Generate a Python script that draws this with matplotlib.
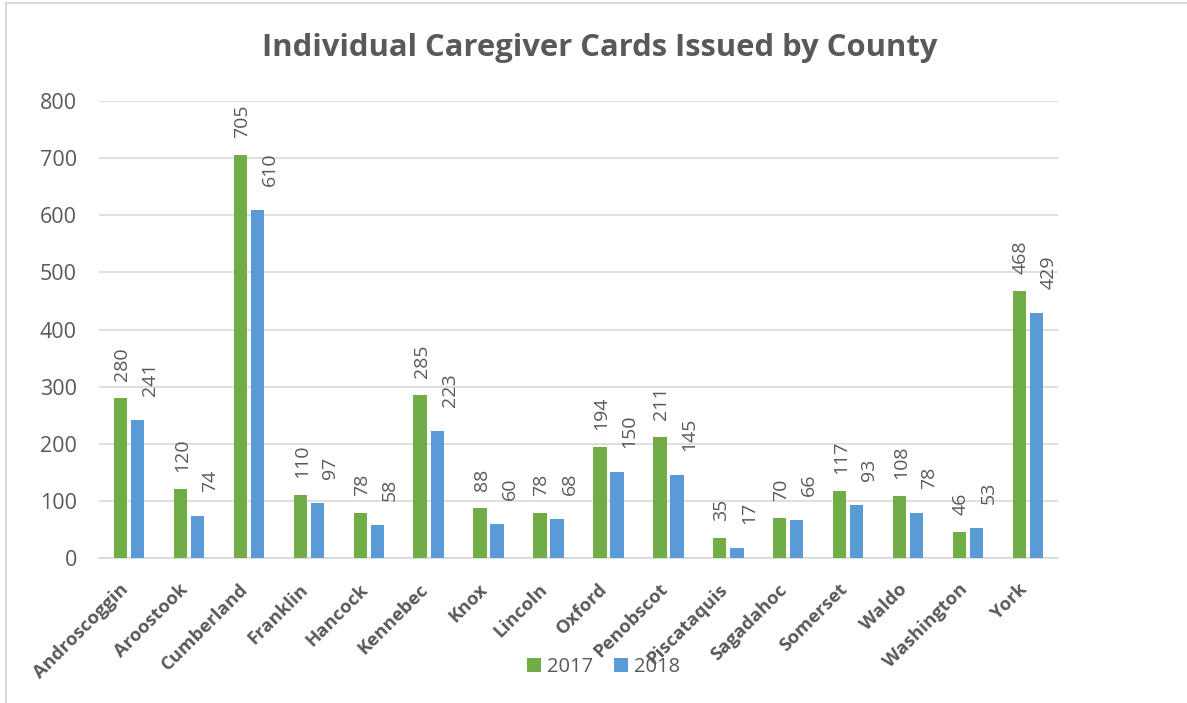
import matplotlib
matplotlib.use("Agg")
import matplotlib.pyplot as plt
import numpy as np
from matplotlib.lines import Line2D
from matplotlib.transforms import ScaledTranslation

counties = ["Androscoggin", "Aroostook", "Cumberland", "Franklin", "Hancock",
            "Kennebec", "Knox", "Lincoln", "Oxford", "Penobscot", "Piscataquis",
            "Sagadahoc", "Somerset", "Waldo", "Washington", "York"]
cards_2017 = [280, 120, 705, 110, 78, 285, 88, 78, 194, 211, 35, 70, 117, 108, 46, 468]
cards_2018 = [241, 74, 610, 97, 58, 223, 60, 68, 150, 145, 17, 66, 93, 78, 53, 429]
series_names = ["2017", "2018"]
colors = ["#70AD47", "#5B9BD5"]
title = "Individual Caregiver Cards Issued by County"

TXT = "#595959"
plt.rcParams['font.family'] = ['Open Sans', 'DejaVu Sans']

W, H = 1187, 703
fig = plt.figure(figsize=(W / 100, H / 100), dpi=100)
ax = fig.add_axes([99 / W, 1 - 558 / H, (1058 - 99) / W, (558 - 101) / H])

x = np.arange(len(counties))
bw = 0.222
off = 0.142
for vals, c, name, sgn, loff in [(cards_2017, colors[0], series_names[0], -1, (1.5, 17)),
                                 (cards_2018, colors[1], series_names[1], 1, (12.5, 24))]:
    bars = ax.bar(x + sgn * off, vals, width=bw, color=c, label=name, zorder=3)
    for b, v in zip(bars, vals):
        ax.annotate(str(v), (b.get_x() + b.get_width() / 2, v),
                    xytext=loff, textcoords='offset pixels',
                    rotation=90, ha='center', va='bottom', fontsize=14,
                    color=TXT)

ax.set_xlim(-0.5, len(counties) - 0.5)
ax.set_ylim(0, 800)
ax.set_yticks(np.arange(0, 801, 100))
ax.yaxis.grid(True, color="#D9D9D9", linewidth=1.2, zorder=0)
for s in ["top", "right", "left"]:
    ax.spines[s].set_visible(False)
ax.spines["bottom"].set_color("#D9D9D9")
ax.spines["bottom"].set_linewidth(1.2)
ax.tick_params(axis='y', length=0, labelsize=15.5, labelcolor=TXT, pad=16)
ax.tick_params(axis='x', length=0, pad=6)
ax.set_xticks(x)
ax.set_xticklabels(counties, rotation=45, ha='right', va='top',
                   rotation_mode='anchor', fontsize=13.3, fontweight='bold', color=TXT)
for lbl in ax.get_xticklabels():
    lbl.set_transform(lbl.get_transform() + ScaledTranslation(-10 / 100, -14 / 100, fig.dpi_scale_trans))

fig.text(600 / W, 1 - 48 / H, title, ha='center', va='center', fontsize=22.3,
         fontweight='bold', color=TXT)

leg = fig.legend(loc='center', bbox_to_anchor=(603.5 / W, 1 - 667 / H), ncol=2,
                 frameon=False, fontsize=14.5, handlelength=0.7, handleheight=0.7,
                 handletextpad=0.3, columnspacing=1.0)
for t in leg.get_texts():
    t.set_color(TXT)

fig.add_artist(Line2D([6 / W, 6 / W], [0, 1 - 3 / H], color="#D9D9D9", lw=1.5))
fig.add_artist(Line2D([6 / W, 1], [1 - 3 / H, 1 - 3 / H], color="#D9D9D9", lw=1.5))

fig.savefig("out.png", dpi=100)
